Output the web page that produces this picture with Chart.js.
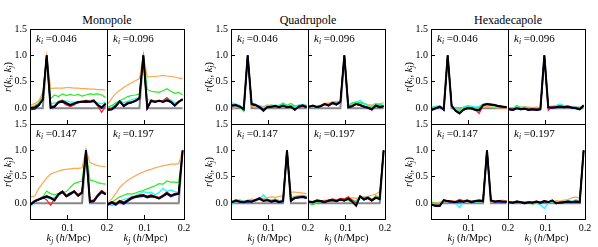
<!DOCTYPE html>
<html>
<head>
<meta charset="utf-8">
<script src="https://cdn.jsdelivr.net/npm/chart.js@4/dist/chart.umd.min.js"></script>
<style>
  body { margin: 0; background: #fff; width: 598px; height: 247px; position: relative; overflow: hidden;
         font-family: 'Liberation Serif', serif; color: #000; }
  canvas, .txt { position: absolute; }
  .txt { white-space: nowrap; line-height: 1; }
  .title { font-size: 12px; transform: translateX(-50%); }
  .ann { font-size: 11px; }
  .xlab { font-size: 10.5px; transform: translateX(-50%); }
  .ylab { font-size: 10.5px; transform: translate(-50%, -50%) rotate(-90deg); }
  .sub { font-size: 7.5px; position: relative; top: 2px; font-style: italic; }
</style>
</head>
<body>
<script>
'use strict';

// k_j bins (h/Mpc) and the k_i of each panel
const kj = [0.0065, 0.0165, 0.0265, 0.0365, 0.0465, 0.0565, 0.0665, 0.0765, 0.0865, 0.0965,
            0.1065, 0.1165, 0.1265, 0.1365, 0.1465, 0.1565, 0.1665, 0.1765, 0.1865, 0.1965];
const kiLabels = ['0.046', '0.096', '0.147', '0.197'];
const multipoles = ['Monopole', 'Quadrupole', 'Hexadecapole'];
const xTicks = [0.1, 0.2];
const yTicks = [0, 0.5, 1, 1.5];

// diagonal (grey)
const identity = [
  [0,0,0,0,1,0,0,0,0,0,0,0,0,0,0,0,0,0,0,0],
  [0,0,0,0,0,0,0,0,0,1,0,0,0,0,0,0,0,0,0,0],
  [0,0,0,0,0,0,0,0,0,0,0,0,0,0,1,0,0,0,0,0],
  [0,0,0,0,0,0,0,0,0,0,0,0,0,0,0,0,0,0,0,1]
];

/* Monopole */
const monoBlack = [
  [0.00, 0.01, 0.06, 0.16, 1, 0.01, 0.03, 0.11, 0.13, 0.09, 0.06, 0.09, 0.12, 0.12, 0.13, 0.12, 0.14, 0.06, 0.01, 0.09],
  [-0.03, -0.02, 0.04, 0.13, 0.04, 0.09, 0.11, 0.14, 0.19, 1, 0.00, 0.14, 0.12, 0.14, 0.12, 0.15, 0.12, 0.05, 0.12, 0.17],
  [-0.02, 0.04, 0.07, 0.10, 0.13, 0.10, 0.05, 0.17, 0.22, 0.13, 0.18, 0.22, 0.14, 0.20, 1, 0.03, 0.04, 0.14, 0.22, 0.17],
  [-0.02, 0.02, -0.02, 0.04, 0.00, 0.05, 0.10, 0.12, 0.14, 0.15, 0.12, 0.14, 0.12, 0.09, 0.14, 0.19, 0.14, 0.17, 0.18, 1]
];
const monoBlue = [
  [-0.03, -0.02, 0.05, 0.15, 1, 0.00, 0.02, 0.10, 0.12, 0.08, 0.05, 0.08, 0.10, 0.12, 0.11, 0.12, 0.13, 0.06, 0.00, 0.07],
  [-0.04, -0.03, 0.03, 0.12, 0.03, 0.08, 0.10, 0.13, 0.17, 1, -0.01, 0.13, 0.11, 0.14, 0.11, 0.14, 0.11, 0.04, 0.11, 0.16],
  [-0.03, 0.03, 0.06, 0.09, 0.12, 0.09, 0.06, 0.15, 0.20, 0.12, 0.16, 0.21, 0.13, 0.19, 1, 0.02, 0.03, 0.13, 0.20, 0.16],
  [-0.04, 0.00, -0.04, 0.02, -0.02, 0.03, 0.08, 0.11, 0.12, 0.13, 0.10, 0.12, 0.11, 0.08, 0.12, 0.17, 0.12, 0.15, 0.17, 1]
];
const monoRed = [
  [0.00, 0.02, 0.07, 0.17, 1, 0.03, 0.04, 0.12, 0.11, 0.06, 0.03, 0.06, 0.11, 0.12, 0.12, 0.13, 0.13, 0.04, -0.08, 0.04],
  [-0.02, -0.01, 0.05, 0.12, 0.05, 0.10, 0.12, 0.13, 0.18, 1, 0.02, 0.15, 0.13, 0.15, 0.14, 0.20, 0.12, 0.06, 0.12, 0.18],
  [-0.01, 0.05, 0.08, 0.11, 0.06, -0.04, 0.08, 0.18, 0.21, 0.15, 0.17, 0.23, 0.16, 0.21, 1, 0.04, 0.06, 0.16, 0.24, 0.18],
  [-0.01, 0.03, -0.01, 0.05, 0.02, 0.06, 0.11, 0.14, 0.15, 0.16, 0.13, 0.16, 0.13, 0.11, 0.15, 0.21, 0.15, 0.18, 0.19, 1]
];
const monoBrown = [
  [0.01, 0.03, 0.08, 0.18, 1, 0.03, 0.05, 0.13, 0.15, 0.11, 0.07, 0.08, 0.12, 0.14, 0.15, 0.14, 0.16, 0.07, 0.02, 0.08],
  [-0.01, 0.00, 0.06, 0.14, 0.06, 0.11, 0.12, 0.15, 0.20, 1, 0.02, 0.16, 0.13, 0.15, 0.13, 0.16, 0.13, 0.06, 0.13, 0.17],
  [0.00, 0.05, 0.08, 0.12, 0.14, 0.11, 0.07, 0.18, 0.23, 0.15, 0.19, 0.24, 0.16, 0.22, 1, 0.05, 0.06, 0.16, 0.24, 0.19],
  [-0.01, 0.03, 0.00, 0.05, 0.02, 0.06, 0.11, 0.13, 0.15, 0.16, 0.13, 0.15, 0.13, 0.10, 0.15, 0.20, 0.15, 0.18, 0.19, 1]
];
const monoCyan = [
  [0.00, 0.03, 0.08, 0.20, 1, 0.08, 0.10, 0.11, 0.13, 0.14, 0.12, 0.11, 0.13, 0.12, 0.14, 0.13, 0.12, 0.10, 0.08, 0.12],
  [0.00, 0.02, 0.07, 0.14, 0.10, 0.13, 0.16, 0.18, 0.20, 1, 0.17, 0.14, 0.15, 0.12, 0.15, 0.19, 0.16, 0.10, 0.12, 0.15],
  [-0.05, 0.03, 0.09, 0.12, 0.10, 0.09, 0.11, 0.18, 0.20, 0.16, 0.20, 0.22, 0.17, 0.19, 1, 0.05, 0.06, 0.17, 0.22, 0.19],
  [0.00, -0.05, 0.00, 0.04, 0.07, 0.09, 0.12, 0.14, 0.18, 0.22, 0.19, 0.21, 0.16, 0.20, 0.28, 0.22, 0.25, 0.22, 0.20, 1]
];
const monoGreen = [
  [0.02, 0.05, 0.10, 0.24, 1, 0.18, 0.25, 0.22, 0.27, 0.24, 0.26, 0.24, 0.26, 0.23, 0.25, 0.27, 0.26, 0.27, 0.25, 0.20],
  [0.02, 0.05, 0.10, 0.14, 0.18, 0.22, 0.24, 0.25, 0.27, 1, 0.35, 0.32, 0.31, 0.30, 0.33, 0.37, 0.32, 0.28, 0.30, 0.25],
  [0.00, 0.05, 0.08, 0.12, 0.23, 0.18, 0.16, 0.18, 0.20, 0.22, 0.30, 0.37, 0.40, 0.42, 1, 0.44, 0.42, 0.39, 0.37, 0.36],
  [-0.04, 0.02, 0.07, 0.12, 0.15, 0.18, 0.17, 0.19, 0.22, 0.24, 0.27, 0.30, 0.33, 0.37, 0.36, 0.42, 0.40, 0.40, 0.39, 1]
];
const monoOrange = [
  [0.06, 0.09, 0.14, 0.30, 1, 0.37, 0.38, 0.38, 0.38, 0.39, 0.39, 0.38, 0.38, 0.37, 0.37, 0.36, 0.36, 0.35, 0.35, 0.34],
  [0.08, 0.19, 0.28, 0.34, 0.39, 0.44, 0.48, 0.52, 0.56, 1, 0.59, 0.60, 0.60, 0.61, 0.62, 0.61, 0.60, 0.59, 0.57, 0.56],
  [0.12, 0.14, 0.28, 0.38, 0.48, 0.55, 0.58, 0.61, 0.63, 0.64, 0.65, 0.66, 0.66, 0.67, 1, 0.77, 0.74, 0.71, 0.70, 0.69],
  [0.02, 0.08, 0.18, 0.30, 0.37, 0.43, 0.48, 0.52, 0.56, 0.59, 0.62, 0.64, 0.67, 0.69, 0.71, 0.72, 0.74, 0.74, 0.75, 1]
];

/* Quadrupole */
const quadBlack = [
  [0.05, 0.06, 0.03, -0.02, 1, 0.08, 0.06, 0.02, -0.04, 0.02, 0.03, 0.04, 0.02, 0.05, 0.02, 0.03, -0.03, 0.03, 0.05, 0.02],
  [0.03, 0.05, 0.02, 0.04, 0.08, 0.05, 0.10, 0.07, 0.12, 1, 0.02, 0.04, 0.08, 0.06, 0.03, 0.01, -0.02, 0.05, 0.02, 0.04],
  [0.02, 0.05, 0.03, 0.02, 0.04, 0.03, 0.06, 0.08, 0.04, 0.06, 0.03, 0.05, 0.02, 0.04, 1, 0.05, 0.10, 0.11, 0.12, 0.10],
  [0.03, 0.02, 0.05, 0.04, 0.02, 0.05, 0.06, 0.04, 0.07, 0.05, 0.09, 0.03, -0.05, 0.13, 0.07, 0.10, 0.05, 0.10, 0.08, 1]
];
const quadBlue = [
  [0.04, 0.05, 0.02, -0.03, 1, 0.07, 0.05, 0.01, -0.06, 0.01, 0.02, 0.05, 0.01, 0.04, 0.01, 0.02, -0.02, 0.02, 0.04, 0.01],
  [0.02, 0.04, 0.01, 0.03, 0.07, 0.04, 0.09, 0.06, 0.11, 1, 0.01, 0.03, 0.07, 0.05, 0.02, 0.00, -0.03, 0.04, 0.01, 0.03],
  [0.01, 0.04, 0.02, 0.01, 0.03, 0.02, 0.05, 0.10, 0.05, 0.05, 0.02, 0.04, 0.01, 0.03, 1, 0.04, 0.09, 0.10, 0.11, 0.09],
  [0.02, 0.01, 0.04, 0.03, 0.01, 0.04, 0.05, 0.03, 0.06, 0.04, 0.08, 0.02, -0.04, 0.12, 0.06, 0.09, 0.04, 0.11, 0.07, 1]
];
const quadRed = [
  [0.06, 0.05, 0.04, -0.01, 1, 0.09, 0.05, 0.03, -0.03, 0.03, 0.02, 0.03, 0.03, 0.04, 0.03, 0.02, -0.04, 0.04, 0.06, 0.03],
  [0.04, 0.05, 0.03, 0.05, 0.09, 0.07, 0.11, 0.09, 0.13, 1, 0.03, 0.05, 0.09, 0.07, 0.04, 0.00, -0.04, 0.06, 0.04, 0.03],
  [0.03, 0.05, 0.04, 0.03, 0.03, 0.04, 0.07, 0.11, 0.06, 0.07, 0.04, 0.06, 0.03, 0.05, 1, 0.06, 0.11, 0.12, 0.13, 0.11],
  [0.04, 0.03, 0.06, 0.05, 0.04, 0.06, 0.08, 0.06, 0.09, 0.08, 0.12, 0.06, 0.00, 0.14, 0.09, 0.12, 0.07, 0.12, 0.09, 1]
];
const quadBrown = [
  [0.05, 0.05, 0.03, -0.02, 1, 0.07, 0.06, 0.03, -0.03, 0.02, 0.03, 0.04, 0.02, 0.05, 0.03, 0.03, -0.02, 0.03, 0.05, 0.03],
  [0.03, 0.05, 0.03, 0.04, 0.08, 0.06, 0.10, 0.08, 0.12, 1, 0.03, 0.05, 0.08, 0.06, 0.04, 0.02, -0.01, 0.05, 0.03, 0.04],
  [0.02, 0.05, 0.03, 0.03, 0.04, 0.03, 0.06, 0.09, 0.05, 0.06, 0.04, 0.05, 0.03, 0.04, 1, 0.06, 0.10, 0.11, 0.12, 0.10],
  [0.03, 0.02, 0.05, 0.04, 0.03, 0.05, 0.06, 0.05, 0.07, 0.06, 0.09, 0.04, -0.04, 0.13, 0.07, 0.10, 0.05, 0.10, 0.08, 1]
];
const quadCyan = [
  [0.10, 0.08, 0.05, 0.00, 1, 0.10, 0.08, 0.04, 0.01, 0.03, 0.05, 0.06, 0.04, 0.07, 0.05, 0.04, 0.02, 0.06, 0.07, 0.05],
  [0.05, 0.03, 0.00, 0.04, 0.06, 0.08, 0.09, 0.10, 0.11, 1, 0.04, 0.08, 0.10, 0.15, 0.09, 0.06, 0.04, 0.07, 0.05, 0.06],
  [-0.02, 0.03, 0.06, 0.04, 0.02, 0.05, 0.04, 0.08, 0.16, 0.08, 0.05, 0.07, 0.04, 0.06, 1, 0.08, 0.12, 0.13, 0.14, 0.12],
  [-0.01, 0.03, 0.06, 0.04, 0.03, 0.05, 0.04, 0.06, 0.05, 0.07, 0.08, 0.06, 0.05, 0.10, 0.11, 0.12, 0.08, 0.13, 0.10, 1]
];
const quadGreen = [
  [0.06, 0.07, 0.02, -0.06, 1, 0.06, 0.07, 0.03, 0.00, 0.04, 0.06, 0.03, 0.05, 0.10, 0.05, 0.09, 0.04, 0.05, 0.07, 0.04],
  [0.02, 0.04, 0.03, 0.05, 0.07, 0.06, 0.08, 0.09, 0.10, 1, 0.05, 0.10, 0.12, 0.10, 0.08, 0.05, 0.03, 0.06, 0.07, 0.05],
  [0.03, 0.07, 0.05, 0.03, 0.05, 0.02, 0.07, 0.09, 0.05, 0.07, 0.06, 0.08, 0.05, 0.06, 1, 0.10, 0.13, 0.14, 0.15, 0.13],
  [0.00, -0.03, 0.02, 0.03, 0.01, 0.04, 0.05, 0.03, 0.06, 0.07, 0.05, 0.02, 0.04, 0.11, 0.06, 0.12, 0.06, 0.14, 0.12, 1]
];
const quadOrange = [
  [-0.03, 0.02, 0.03, 0.01, 1, 0.04, 0.02, 0.05, 0.03, 0.06, 0.04, 0.05, 0.06, 0.03, 0.06, 0.05, 0.04, 0.06, 0.05, 0.06],
  [0.01, 0.03, 0.04, 0.06, 0.09, 0.10, 0.12, 0.13, 0.12, 1, 0.06, 0.09, 0.10, 0.11, 0.09, 0.07, 0.06, 0.09, 0.08, 0.10],
  [0.01, 0.02, 0.05, 0.04, 0.06, 0.08, 0.05, 0.07, 0.09, 0.10, 0.12, 0.11, 0.13, 0.14, 1, 0.21, 0.21, 0.20, 0.19, 0.18],
  [0.02, 0.03, 0.05, 0.04, 0.06, 0.05, 0.07, 0.06, 0.08, 0.07, 0.09, 0.10, 0.09, 0.11, 0.12, 0.13, 0.15, 0.17, 0.22, 1]
];

/* Hexadecapole */
const hexBlack = [
  [-0.03, 0.00, 0.03, -0.03, 1, 0.05, -0.05, -0.10, -0.03, 0.00, 0.00, -0.03, -0.04, 0.06, 0.08, 0.07, 0.06, 0.04, 0.03, 0.02],
  [-0.02, -0.03, 0.00, -0.02, -0.01, -0.03, -0.02, -0.03, -0.02, 1, 0.02, 0.01, 0.02, 0.03, 0.02, 0.03, 0.01, 0.00, -0.02, 0.05],
  [-0.03, -0.05, -0.05, 0.06, 0.04, 0.03, 0.02, 0.04, 0.03, 0.05, 0.02, 0.04, 0.05, 0.04, 1, 0.05, 0.03, 0.04, 0.03, 0.03],
  [0.02, 0.01, 0.03, 0.02, 0.00, 0.02, 0.01, 0.03, 0.01, 0.04, 0.02, 0.05, 0.00, 0.01, 0.02, 0.03, 0.02, 0.03, 0.02, 1]
];
const hexBlue = [
  [-0.04, -0.01, 0.02, -0.04, 1, 0.04, -0.06, -0.09, -0.04, -0.01, -0.02, -0.04, -0.05, 0.05, 0.07, 0.06, 0.05, 0.03, 0.02, 0.01],
  [-0.03, -0.04, -0.01, -0.03, -0.02, -0.04, -0.03, -0.04, -0.03, 1, 0.01, 0.00, 0.01, 0.02, 0.01, 0.02, 0.00, -0.01, -0.03, 0.04],
  [-0.04, -0.06, -0.06, 0.05, 0.03, 0.02, 0.01, 0.03, 0.02, 0.04, 0.01, 0.03, 0.04, 0.03, 1, 0.04, 0.02, 0.03, 0.02, 0.02],
  [0.01, 0.00, 0.02, 0.01, -0.01, 0.01, 0.00, 0.02, 0.00, 0.03, 0.01, 0.06, -0.01, 0.00, 0.01, 0.02, 0.01, 0.02, 0.01, 1]
];
const hexRed = [
  [-0.02, 0.01, 0.03, -0.02, 1, 0.05, -0.04, -0.08, -0.02, 0.01, 0.01, -0.03, -0.10, 0.04, 0.07, 0.06, 0.05, 0.04, 0.03, 0.03],
  [-0.01, -0.02, 0.01, -0.01, 0.00, -0.02, -0.01, -0.02, -0.01, 1, -0.04, 0.02, 0.03, 0.04, 0.03, 0.04, 0.02, 0.01, -0.01, 0.06],
  [-0.02, -0.04, -0.04, 0.05, 0.05, 0.04, 0.03, 0.07, 0.05, 0.06, 0.03, 0.05, 0.06, 0.05, 1, 0.06, 0.04, 0.05, 0.04, 0.04],
  [0.03, 0.02, 0.04, 0.03, 0.01, 0.03, 0.02, 0.04, 0.02, 0.05, 0.03, 0.05, 0.01, 0.02, 0.03, 0.04, 0.03, 0.04, 0.03, 1]
];
const hexBrown = [
  [-0.02, 0.00, 0.03, -0.02, 1, 0.05, -0.04, -0.09, -0.02, 0.00, 0.01, -0.02, -0.03, 0.06, 0.08, 0.07, 0.06, 0.04, 0.03, 0.02],
  [-0.02, -0.02, 0.00, -0.01, -0.01, -0.02, -0.02, -0.02, -0.02, 1, 0.02, 0.02, 0.02, 0.03, 0.02, 0.03, 0.02, 0.01, -0.01, 0.05],
  [-0.03, -0.04, -0.04, 0.06, 0.04, 0.03, 0.03, 0.05, 0.04, 0.05, 0.03, 0.04, 0.05, 0.04, 1, 0.05, 0.03, 0.04, 0.03, 0.03],
  [0.02, 0.01, 0.03, 0.02, 0.01, 0.02, 0.01, 0.03, 0.02, 0.04, 0.02, 0.04, 0.01, 0.02, 0.02, 0.03, 0.02, 0.03, 0.02, 1]
];
const hexCyan = [
  [0.02, 0.03, 0.04, 0.00, 1, 0.04, 0.00, -0.04, 0.02, 0.05, 0.04, 0.02, 0.03, 0.08, 0.09, 0.08, 0.06, 0.05, 0.04, 0.03],
  [0.01, 0.00, 0.03, 0.01, 0.02, 0.00, 0.01, 0.00, 0.01, 1, 0.03, 0.04, 0.05, 0.08, 0.05, 0.04, 0.03, 0.02, 0.01, 0.06],
  [0.00, -0.02, -0.01, 0.04, 0.05, 0.04, 0.00, -0.08, 0.02, 0.05, 0.03, 0.01, 0.04, 0.03, 1, 0.04, 0.02, 0.05, 0.03, 0.02],
  [0.00, 0.02, 0.04, 0.01, 0.00, 0.03, 0.02, 0.00, -0.03, -0.10, 0.00, 0.03, 0.02, 0.01, 0.03, 0.05, 0.04, 0.06, 0.05, 1]
];
const hexGreen = [
  [0.00, 0.02, 0.04, -0.01, 1, 0.03, -0.02, -0.05, 0.01, 0.03, 0.02, 0.00, 0.01, 0.06, 0.07, 0.05, 0.04, 0.03, 0.02, 0.02],
  [0.00, -0.01, 0.05, 0.01, 0.00, -0.01, 0.00, -0.01, 0.00, 1, 0.02, 0.03, 0.04, 0.05, 0.04, 0.03, 0.02, 0.01, 0.00, 0.04],
  [0.02, -0.01, -0.02, 0.05, 0.03, 0.02, 0.04, 0.02, 0.01, 0.04, 0.05, 0.02, 0.03, 0.06, 1, 0.03, 0.05, 0.03, 0.02, 0.03],
  [0.01, 0.00, 0.02, 0.00, 0.02, 0.01, -0.02, 0.01, 0.00, 0.02, 0.01, 0.03, 0.02, 0.00, 0.04, 0.02, 0.00, 0.06, 0.03, 1]
];
const hexOrange = [
  [0.02, 0.04, 0.03, 0.01, 1, 0.02, 0.00, -0.02, 0.00, 0.02, 0.01, 0.00, 0.01, 0.02, 0.03, 0.02, 0.01, 0.00, 0.01, 0.00],
  [0.00, 0.01, 0.02, 0.02, 0.03, 0.02, 0.01, 0.02, 0.01, 1, 0.00, 0.01, 0.02, 0.03, 0.02, 0.02, 0.01, 0.03, 0.02, 0.03],
  [0.01, 0.00, 0.02, 0.03, 0.04, 0.05, 0.03, 0.02, 0.04, 0.03, 0.05, 0.04, 0.03, 0.05, 1, 0.02, 0.04, 0.05, 0.06, 0.04],
  [0.00, 0.01, 0.02, 0.01, 0.03, 0.02, 0.01, 0.03, 0.02, 0.04, 0.03, 0.02, 0.05, 0.04, 0.06, 0.07, 0.10, 0.12, 0.09, 1]
];

// drawn top first
const groups = [
  [monoBlack, monoBlue, monoRed, monoBrown, monoCyan, monoGreen, monoOrange],
  [quadBlack, quadBlue, quadRed, quadBrown, quadCyan, quadGreen, quadOrange],
  [hexBlack, hexBlue, hexRed, hexBrown, hexCyan, hexGreen, hexOrange]
];
const colors = ['#000000', '#0000ff', '#ff1a1a', '#a0522d', '#00ffff', '#22ee22', '#ffa54f'];
const widths = [1.9, 1.2, 1.2, 1.2, 1.2, 1.2, 1.2];

// layout
const groupLeft = [30, 231, 431];
const rowTop = [29, 124];
const panelW = 77, panelH = 95;
const padL = 30, padT = 14, padR = 14, padB = 28;

Chart.defaults.font.family = "'Liberation Serif', serif";
Chart.defaults.font.size = 10;
Chart.defaults.color = '#000';

const frame = {
  id: 'frame',
  afterDatasetsDraw(chart) {
    const a = chart.chartArea, ctx = chart.ctx;
    ctx.save();
    ctx.strokeStyle = '#000';
    ctx.lineWidth = 1;
    ctx.strokeRect(a.left + 0.5, a.top + 0.5, a.right - a.left, a.bottom - a.top);
    ctx.restore();
  }
};

function addText(cls, html, x, y) {
  const d = document.createElement('div');
  d.className = 'txt ' + cls;
  d.innerHTML = html;
  d.style.left = x + 'px';
  d.style.top = y + 'px';
  document.body.appendChild(d);
}

function makePanel(g, p) {
  const col = p % 2, row = Math.floor(p / 2);
  const px = groupLeft[g] + col * panelW;
  const py = rowTop[row];

  const cv = document.createElement('canvas');
  cv.width = padL + panelW + padR;
  cv.height = padT + panelH + padB;
  cv.style.left = (px - padL) + 'px';
  cv.style.top = (py - padT) + 'px';
  document.body.appendChild(cv);

  const datasets = groups[g].map((s, i) => ({
    data: s[p].map((v, j) => ({ x: kj[j], y: v })),
    borderColor: colors[i],
    borderWidth: widths[i]
  }));
  datasets.push({
    data: identity[p].map((v, j) => ({ x: kj[j], y: v })),
    borderColor: '#888888',
    borderWidth: 2
  });

  new Chart(cv, {
    type: 'line',
    data: { datasets },
    options: {
      animation: false,
      responsive: false,
      layout: { padding: { top: padT, right: padR, left: 0, bottom: 0 } },
      plugins: { legend: { display: false }, tooltip: { enabled: false } },
      elements: { point: { radius: 0 }, line: { tension: 0 } },
      scales: {
        x: {
          type: 'linear', min: 0.004, max: 0.2,
          afterFit: s => { s.height = padB; },
          afterBuildTicks: s => { s.ticks = xTicks.map(v => ({ value: v })); },
          border: { display: false },
          grid: { drawOnChartArea: false, tickLength: -4, color: '#000' },
          ticks: { display: row === 1, padding: 7, maxRotation: 0, autoSkip: false,
                   callback: v => v.toFixed(1) }
        },
        y: {
          min: -0.3, max: 1.5,
          afterFit: s => { s.width = padL; },
          afterBuildTicks: s => { s.ticks = yTicks.map(v => ({ value: v })); },
          border: { display: false },
          grid: { drawOnChartArea: false, tickLength: -4, color: '#000' },
          ticks: { display: col === 0, padding: 7, callback: v => v.toFixed(1) }
        }
      }
    },
    plugins: [frame]
  });

  addText('ann', '<i>k</i><span class="sub">i</span> =' + kiLabels[p], px + 6, py + 4);
  if (row === 1) {
    addText('xlab', '<i>k</i><span class="sub">j</span> (<i>h</i>/Mpc)', px + panelW / 2, 233);
  }
  if (col === 0) {
    addText('ylab', '<i>r</i>(<i>k</i><span class="sub">i</span>, <i>k</i><span class="sub">j</span>)',
            px - 22, py + panelH / 2);
  }
}

for (let g = 0; g < 3; g++) {
  addText('title', multipoles[g], groupLeft[g] + panelW, 14);
  for (let p = 0; p < 4; p++) makePanel(g, p);
}
</script>
</body>
</html>
